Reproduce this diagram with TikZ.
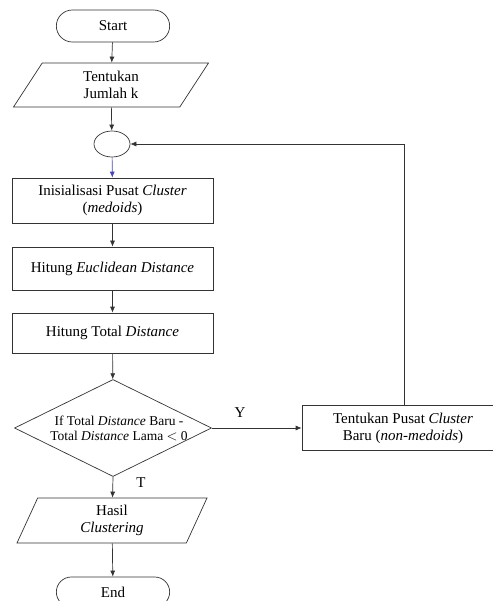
\documentclass[tikz,border=0pt]{standalone}
\usepackage{fontspec}
\setmainfont{Liberation Serif}
\usetikzlibrary{shapes.geometric,shapes.misc,arrows.meta}

\tikzset{
  line/.style={draw=black!80, line width=0.7pt},
  flow/.style={line, -{Latex[length=6pt,width=5pt]}},
  terminal/.style={line, rounded rectangle, minimum width=120pt, minimum height=32pt},
  inout/.style={line, trapezium, trapezium left angle=50, trapezium right angle=130,
                trapezium stretches body, align=center},
  process/.style={line, rectangle, minimum width=201pt, align=center},
  decision/.style={line, diamond, minimum width=197pt, minimum height=97pt, inner sep=0pt},
}

\begin{document}
\begin{tikzpicture}[x=1pt, y=-1pt, font=\fontsize{15}{17}\selectfont]
  \useasboundingbox (0,0) rectangle (492,601);
  % Main column of the flowchart
  \node[terminal]   (start)   at (113,26)    {Start};
  \node[inout, minimum width=195pt, minimum height=44pt]
                    (jumlah)  at (111,85)    {Tentukan\\Jumlah k};
  \node[line, ellipse, minimum width=36pt, minimum height=26pt, inner sep=0pt]
                    (loop)    at (112,144)   {};
  \node[process, minimum height=45pt] (init)  at (112.5,200.5) {Inisialisasi Pusat \textit{Cluster}\\(\textit{medoids})};
  \node[process, minimum height=43pt] (eucl)  at (112.5,268.5) {Hitung \textit{Euclidean Distance}};
  \node[process, minimum height=40pt] (total) at (112.5,333)   {Hitung Total \textit{Distance}};
  \node[decision]   (cek)     at (113,428)   {};
  \node[font=\fontsize{13.5}{15}\selectfont, align=center]
                    (cektext) at (119,428)   {If Total \textit{Distance} Baru -\\Total \textit{Distance} Lama $<$ 0};
  \node[inout, trapezium left angle=61, trapezium right angle=119, minimum width=190pt, minimum height=45pt]
                    (hasil)   at (112,520.5) {Hasil\\\textit{Clustering}};
  \node[terminal, minimum height=30pt] (end) at (113,592) {End};
  % Right-hand side box
  \node[process, minimum width=202pt, minimum height=45pt]
                    (baru)    at (403,428)   {Tentukan Pusat \textit{Cluster}\\Baru (\textit{non-medoids})};
  \node             (ya)      at (240,413)   {Y};
  \node             (tidak)   at (141,483)   {T};
  % Connectors
  \draw[flow] (start) -- (jumlah);
  \draw[flow] (jumlah) -- (loop);
  \draw[flow, draw=blue!45!gray] (loop) -- (init);
  \draw[flow] (init) -- (eucl);
  \draw[flow] (eucl) -- (total);
  \draw[flow] (total) -- (cek);
  \draw[flow] (cek.east) -- (baru.west);
  \draw[flow] (baru.north -| 404,0) |- (loop.east);
  \draw[flow] (cek.south) -- (hasil);
  \draw[flow] (hasil) -- (end);
\end{tikzpicture}
\end{document}
